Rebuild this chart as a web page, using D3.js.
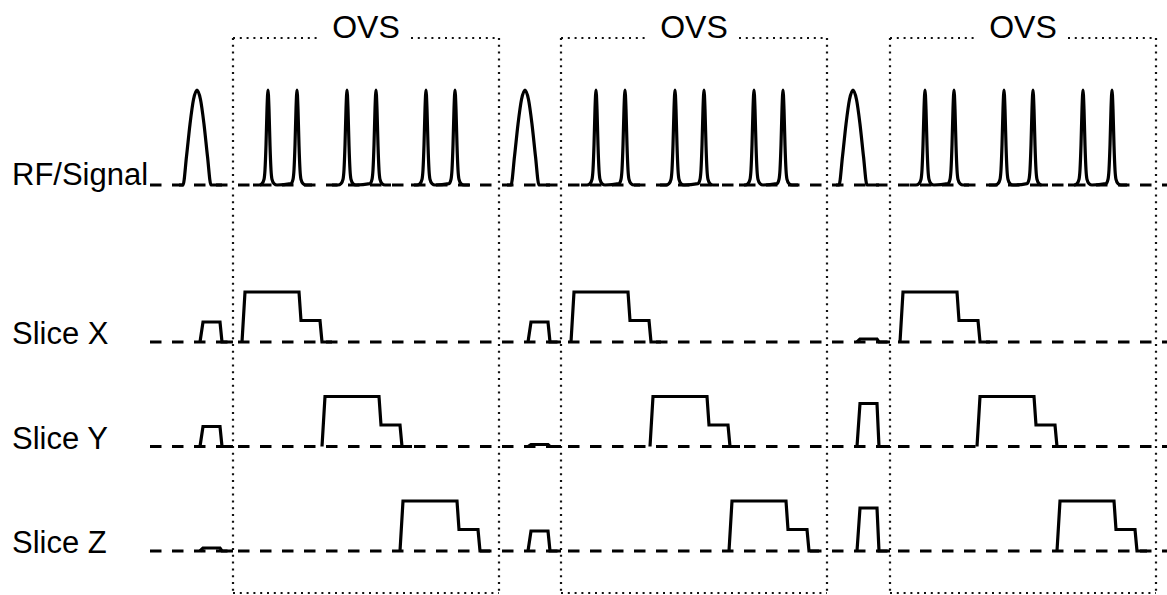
<!DOCTYPE html>
<html>
<head>
<meta charset="utf-8">
<script src="https://cdn.jsdelivr.net/npm/d3@7"></script>
<style>
  html, body { margin: 0; padding: 0; background: #fff; }
  svg { display: block; }
</style>
</head>
<body>
<svg id="chart" width="1167" height="595"></svg>
<script>
// ---- Sequence description (time in sequence units, gradients in mT/m) ----
const rowNames = ["RF/Signal", "Slice X", "Slice Y", "Slice Z"];
const gradientRows = ["Slice X", "Slice Y", "Slice Z"];

// start of each OVS block and its length
const blockStarts = [0, 328, 657];
const blockLength = 266;
const blockLabel = "OVS";

// excitation pulse centre, relative to the block start that follows it
const excitationOffsets = [-36, -36, -37];
// excitation envelope: [time from centre, normalised amplitude]
const excitationShape = [
  [-14, 0], [-10.5, 0.3], [-7, 0.64], [-3.5, 0.9], [0, 1],
  [3.5, 0.9], [7, 0.64], [10.5, 0.3], [14, 0]
];
// flat lead-in / lead-out of the excitation trace
const excitationSpan = [-54, -11];

// OVS saturation pulse pairs: pulse centres relative to block start
const ovsPulsePairs = [[35, 64], [114, 143], [193, 222]];
// narrow saturation pulse envelope
const ovsPulseShape = [
  [-9, 0], [-6, 0.015], [-4, 0.06], [-3, 0.16], [-2, 0.42], [-1, 0.8], [0, 1],
  [1, 0.8], [2, 0.42], [3, 0.16], [4, 0.06], [6, 0.015], [9, 0]
];
const pairPadding = 15;

// slice-select gradient under each excitation pulse (amplitude per block)
const preAmplitudes = {
  "Slice X": [10, 10, 1.5],
  "Slice Y": [10, 1, 21.5],
  "Slice Z": [1.5, 10, 21.5]
};
// breakpoints relative to block start: [time, fraction of amplitude]
const preShape = [[-33, 0], [-30, 1], [-13, 1], [-11, 0], [0, 0]];

// OVS spoiler/crusher gradient: start time relative to block start
const lobeOffsets = {
  "Slice X": [9, 10, 10],
  "Slice Y": [89, 89, 87],
  "Slice Z": [167, 168, 167]
};
// lobe breakpoints: [time from lobe start, amplitude in mT/m]
const lobeShape = [[0, 0], [3, 25], [57, 25], [59, 10.75], [78, 10.75], [80, 0], [90, 0]];

// ---- Layout ----
const W = 1167, H = 595;
const svg = d3.select("#chart");
const font = "'Liberation Sans', Arial, Helvetica, sans-serif";

const x = d3.scaleLinear().domain([-233, 934]).range([0, W]);
const baseline = { "RF/Signal": 185, "Slice X": 342, "Slice Y": 446.5, "Slice Z": 551 };
const rfAmp = d3.scaleLinear().domain([0, 1]).range([0, 95]);
const gAmp = d3.scaleLinear().domain([0, 25]).range([0, 50]);

const line = d3.line().x(d => x(d[0])).y(d => d[1]);
const smooth = d3.line().x(d => x(d[0])).y(d => d[1]).curve(d3.curveMonotoneX);

// ---- OVS blocks (dotted frames) ----
const boxTop = 38, boxBottom = 593, gapHalf = 45;
const gBoxes = svg.append("g").attr("class", "ovs-blocks");
blockStarts.forEach(s => {
  const x0 = x(s), x1 = x(s + blockLength), xc = (x0 + x1) / 2;
  const segs = [
    [[x0, boxTop], [xc - gapHalf, boxTop]],
    [[xc + gapHalf, boxTop], [x1, boxTop]],
    [[x0, boxTop], [x0, boxBottom]],
    [[x1, boxTop], [x1, boxBottom]],
    [[x0, boxBottom], [x1, boxBottom]]
  ];
  gBoxes.selectAll(null).data(segs).join("path")
    .attr("d", d => d3.line()(d))
    .attr("fill", "none")
    .attr("stroke", "#111")
    .attr("stroke-width", 2.2)
    .attr("stroke-dasharray", "2,4.8");
  gBoxes.append("text")
    .attr("x", xc).attr("y", boxTop - 0.5)
    .attr("text-anchor", "middle")
    .attr("font-family", font)
    .attr("font-size", 32)
    .attr("fill", "#000")
    .text(blockLabel);
});

// ---- Dashed baselines ----
svg.append("g").selectAll("line").data(rowNames).join("line")
  .attr("x1", 150).attr("x2", W)
  .attr("y1", d => baseline[d]).attr("y2", d => baseline[d])
  .attr("stroke", "#000")
  .attr("stroke-width", 3)
  .attr("stroke-dasharray", "11.5,10.5");

// ---- Row labels ----
svg.append("g").selectAll("text").data(rowNames).join("text")
  .attr("x", 12)
  .attr("y", d => baseline[d] + (d === "RF/Signal" ? 0 : 2))
  .attr("font-family", font)
  .attr("font-size", 31)
  .attr("fill", "#000")
  .text(d => d);

// ---- RF waveform ----
const gRF = svg.append("g").attr("class", "rf");
const rfBase = baseline["RF/Signal"];
blockStarts.forEach((s, i) => {
  // excitation pulse with short flat feet
  const c = s + excitationOffsets[i];
  const pts = [[s + excitationSpan[0], rfBase]]
    .concat(excitationShape.map(p => [c + p[0], rfBase - rfAmp(p[1])]))
    .concat([[s + excitationSpan[1], rfBase]]);
  gRF.append("path").attr("d", smooth(pts));

  // OVS saturation pulse pairs
  ovsPulsePairs.forEach(pair => {
    const a = s + pair[0], b = s + pair[1];
    const p = [[a - pairPadding, rfBase]]
      .concat(ovsPulseShape.map(q => [a + q[0], rfBase - rfAmp(q[1])]))
      .concat(ovsPulseShape.slice(1).map(q => [b + q[0], rfBase - rfAmp(q[1])]))
      .concat([[b + pairPadding, rfBase]]);
    gRF.append("path").attr("d", smooth(p));
  });
});
gRF.selectAll("path")
  .attr("fill", "none").attr("stroke", "#000")
  .attr("stroke-width", 3.2).attr("stroke-linejoin", "round");

// ---- Gradient waveforms ----
const gG = svg.append("g").attr("class", "gradients");
gradientRows.forEach(row => {
  const b = baseline[row];
  blockStarts.forEach((s, i) => {
    const amp = preAmplitudes[row][i];
    const pre = preShape.map(p => [s + p[0], b - gAmp(amp * p[1])]);
    gG.append("path").attr("d", line(pre));

    const o = s + lobeOffsets[row][i];
    const lobe = lobeShape.map(p => [o + p[0], b - gAmp(p[1])]);
    gG.append("path").attr("d", line(lobe));
  });
});
gG.selectAll("path")
  .attr("fill", "none").attr("stroke", "#000")
  .attr("stroke-width", 3.2).attr("stroke-linejoin", "miter");
</script>
</body>
</html>
